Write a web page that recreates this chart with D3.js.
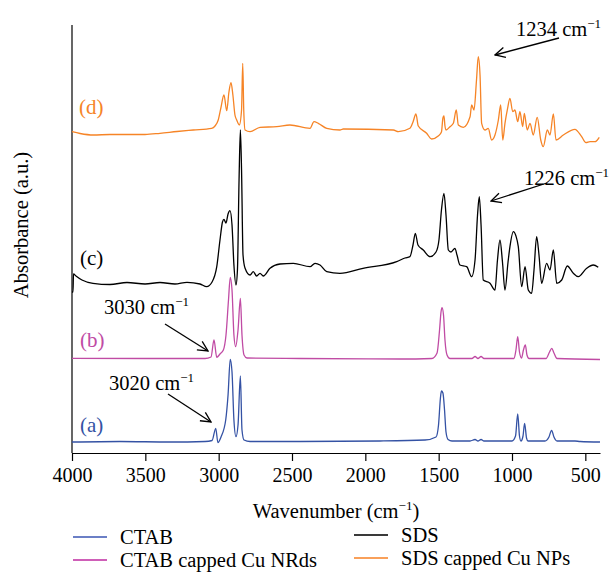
<!DOCTYPE html>
<html lang="en">
<head>
<meta charset="UTF-8">
<title>FTIR spectra</title>
<style>
    body { margin: 0; background: #fff; }
    text { font-family: "Liberation Serif", "Times New Roman", serif; }
    .axis path, .axis line { stroke: #000; stroke-width: 1.2px; }
    .trace { fill: none; stroke-width: 1.3px; stroke-linejoin: round; }
</style>
</head>
<body>
<div id="chart"></div>
<script src="https://d3js.org/d3.v7.min.js"></script>
<script>
    "use strict";

    // [wavenumber (cm-1), absorbance (a.u., offset)]
    const ctab = [
        [4000, 11], [3673, 11.5], [3332, 11], [3093, 11.5], [3045, 12.5], [3020, 24.7], [3005, 10.3],
        [2984, 16], [2952, 33], [2936, 58], [2921, 93.7], [2909, 81], [2896, 33], [2882, 16.3],
        [2868, 28], [2852, 77], [2841, 23], [2827, 13], [2786, 11.5], [2445, 11.5], [1900, 12],
        [1593, 13], [1518, 16], [1501, 28], [1488, 55], [1481, 62], [1471, 60], [1460, 43],
        [1450, 21], [1436, 13.5], [1409, 12], [1286, 12], [1252, 13.5], [1232, 12], [1211, 13.5],
        [1191, 12], [1000, 12], [976, 17], [961, 39], [949, 17], [939, 12], [925, 17], [914, 29.7],
        [901, 15], [891, 12], [775, 12], [748, 16], [730, 22.7], [714, 16], [693, 12], [571, 12],
        [536, 11.5], [400, 11]
    ];
    const ctabCu = [
        [4000, 94.7], [3468, 94.5], [3093, 94.5], [3052, 96], [3032, 113], [3013, 95.7], [2991, 99],
        [2968, 103], [2950, 118], [2933, 153], [2921, 175.7], [2909, 163], [2896, 118], [2884, 106.3],
        [2868, 123], [2852, 154.7], [2841, 118], [2827, 98], [2807, 95], [2445, 94.5], [1764, 94],
        [1546, 94.5], [1511, 100], [1494, 123], [1484, 141], [1477, 145.3], [1467, 138], [1457, 113],
        [1443, 98], [1423, 94.5], [1273, 94.5], [1252, 96.5], [1232, 94.5], [1211, 96.5], [1191, 94.5],
        [986, 94.5], [973, 103], [961, 116.3], [949, 101], [935, 95], [922, 103], [909, 108], [898, 98],
        [884, 94.5], [768, 94.5], [744, 101], [729, 104.7], [714, 100], [693, 94.5], [400, 93.5]
    ];
    const sds = [
        [4000, 161], [3993, 161], [3990, 179], [3973, 177], [3932, 173], [3857, 169.7], [3741, 168.5],
        [3625, 170.5], [3502, 169], [3400, 170.5], [3298, 169], [3216, 170.7], [3127, 169], [3082, 166.3],
        [3045, 171], [3013, 186.3], [2991, 213], [2974, 231], [2964, 233.7], [2950, 230], [2936, 239],
        [2923, 242.3], [2909, 228], [2896, 188], [2882, 168], [2872, 183], [2861, 273], [2852, 323],
        [2844, 283], [2834, 198], [2820, 184.7], [2786, 178], [2764, 181.3], [2741, 177], [2718, 179.7],
        [2696, 177], [2650, 184.7], [2582, 189], [2491, 189.7], [2377, 186.3], [2343, 189.7], [2309, 188],
        [2263, 181.3], [2173, 179.7], [2016, 184.7], [1786, 191.3], [1730, 195], [1696, 196.3], [1675, 208],
        [1659, 219.7], [1641, 208], [1605, 203], [1559, 196.3], [1518, 201], [1498, 213], [1481, 243],
        [1464, 259.7], [1450, 238], [1434, 203], [1416, 201], [1389, 204.7], [1375, 198], [1355, 188],
        [1309, 186.3], [1275, 176.3], [1252, 193], [1235, 238], [1223, 256.3], [1211, 228], [1196, 173],
        [1150, 169.7], [1116, 163], [1099, 193], [1082, 213], [1065, 191], [1048, 163], [1027, 191],
        [1014, 206.3], [991, 221.3], [973, 217], [957, 206.3], [934, 166.3], [911, 186.3], [889, 163],
        [866, 159.7], [850, 183], [832, 216.3], [816, 198], [798, 169.7], [764, 189.7], [741, 183],
        [718, 203], [695, 169.7], [661, 173], [623, 187], [582, 179.7], [548, 176.3], [491, 184.7],
        [446, 188], [412, 185.7]
    ];
    const sdsCu = [
        [4000, 321.3], [3945, 319.5], [3855, 318], [3741, 318.5], [3627, 318.5], [3502, 318.5], [3400, 319.7],
        [3284, 321.5], [3173, 323], [3048, 324.7], [3025, 327], [3003, 333], [2985, 345], [2964, 358],
        [2945, 342.3], [2930, 361], [2916, 370.3], [2903, 358], [2889, 338], [2877, 333], [2859, 328],
        [2844, 343], [2836, 389.7], [2829, 343], [2820, 323], [2786, 321.3], [2718, 325.7], [2604, 326.3],
        [2514, 328], [2377, 324.7], [2350, 331.3], [2321, 329.7], [2263, 324.7], [2173, 323], [2150, 324],
        [1809, 323], [1775, 321.3], [1696, 324.7], [1675, 331], [1655, 339], [1639, 327], [1582, 319.7],
        [1548, 314], [1503, 317], [1481, 321], [1471, 335], [1464, 337], [1457, 327], [1450, 323],
        [1423, 326.3], [1400, 329.7], [1380, 343], [1366, 328], [1332, 325.7], [1286, 336.3], [1275, 348],
        [1259, 343], [1242, 373], [1230, 396.3], [1218, 378], [1207, 329.7], [1184, 323], [1162, 324.7],
        [1139, 313], [1116, 318], [1093, 333], [1077, 348], [1063, 313], [1048, 329.7], [1030, 344.7],
        [1014, 354.7], [995, 341.3], [980, 343], [961, 331.3], [946, 341.3], [927, 326.3], [916, 339.7],
        [896, 323], [877, 329.7], [855, 318], [828, 335.7], [804, 313], [787, 306.3], [759, 323],
        [741, 318], [718, 339], [700, 313], [650, 318], [571, 323.7], [525, 316.3], [496, 310.3],
        [468, 311.3], [434, 311.3], [405, 315.7]
    ];

    const xTicks = [4000, 3500, 3000, 2500, 2000, 1500, 1000, 500];
    const seriesNames = ["CTAB", "CTAB capped Cu NRds", "SDS", "SDS capped Cu NPs"];
    const seriesTags = ["(a)", "(b)", "(c)", "(d)"];
    const seriesColors = ["#3452a4", "#c04ba4", "#000000", "#f68426"];
    const legendColors = ["#6b7fc6", "#cf5fb8", "#3a3a3a", "#f9a05a"];
    const peakLabels = ["3020", "3030", "1226", "1234"];

    const width = 613, height = 573;
    const svg = d3.select("#chart").append("svg")
        .attr("width", width)
        .attr("height", height);

    const x = d3.scaleLinear().domain([4000, 400]).range([72, 600]);
    const y = d3.scaleLinear().domain([0, 430]).range([453, 23]);

    // axes
    svg.append("g")
        .attr("class", "axis")
        .attr("transform", "translate(0," + y(0) + ")")
        .call(d3.axisBottom(x).tickValues(xTicks).tickFormat(d3.format("d"))
            .tickSize(8).tickSizeOuter(0).tickPadding(7))
        .call(g => g.selectAll("text").attr("font-size", 20).attr("fill", "#000")
            .style("font-family", "'Liberation Serif', serif"));

    svg.append("line")
        .attr("x1", x(4000)).attr("x2", x(4000))
        .attr("y1", y(0)).attr("y2", y(428))
        .attr("stroke", "#000").attr("stroke-width", 1.2);

    // traces
    const line = d3.line()
        .x(d => x(d[0]))
        .y(d => y(d[1]))
        .curve(d3.curveMonotoneX);

    const allSeries = [ctab, ctabCu, sds, sdsCu];
    allSeries.forEach(function (s, i) {
        svg.append("path")
            .attr("class", "trace")
            .attr("d", line(s))
            .attr("stroke", seriesColors[i]);
    });

    // tags (a)-(d)
    const tagPos = [[80, 425], [80, 340], [80, 258], [79, 107]];
    seriesTags.forEach(function (t, i) {
        svg.append("text")
            .attr("x", tagPos[i][0])
            .attr("y", tagPos[i][1])
            .attr("dy", "0.35em")
            .attr("font-size", 21)
            .attr("fill", seriesColors[i])
            .text(t);
    });

    // arrow head
    svg.append("defs").append("marker")
        .attr("id", "head")
        .attr("viewBox", "0 0 12 12")
        .attr("refX", 11).attr("refY", 6)
        .attr("markerWidth", 12).attr("markerHeight", 12)
        .attr("markerUnits", "userSpaceOnUse")
        .attr("orient", "auto")
        .append("path")
        .attr("d", "M1,1 L11,6 L1,11")
        .attr("fill", "none")
        .attr("stroke", "#000")
        .attr("stroke-width", 1.3);

    // annotation positions (text start, text centre y, arrow from, arrow to)
    const annoPos = [
        { tx: 109, ty: 383, a: [168, 394, 211, 422] },
        { tx: 104, ty: 307, a: [165, 324, 208, 351] },
        { tx: 524, ty: 178, a: [547, 183, 491, 201] },
        { tx: 516, ty: 29, a: [559, 38, 495, 55] }
    ];
    peakLabels.forEach(function (p, i) {
        const pos = annoPos[i];
        const t = svg.append("text")
            .attr("x", pos.tx)
            .attr("y", pos.ty)
            .attr("dy", "0.35em")
            .attr("font-size", 20.5)
            .attr("fill", "#000");
        t.append("tspan").text(p + " cm");
        t.append("tspan").attr("font-size", 13).attr("dy", -8).text("\u22121");

        svg.append("line")
            .attr("x1", pos.a[0]).attr("y1", pos.a[1])
            .attr("x2", pos.a[2]).attr("y2", pos.a[3])
            .attr("stroke", "#000").attr("stroke-width", 1.3)
            .attr("marker-end", "url(#head)");
    });

    // axis titles
    const xt = svg.append("text")
        .attr("x", (x(4000) + x(400)) / 2)
        .attr("y", 518)
        .attr("text-anchor", "middle")
        .attr("font-size", 20.5);
    xt.append("tspan").text("Wavenumber (cm");
    xt.append("tspan").attr("font-size", 13).attr("dy", -8).text("\u22121");
    xt.append("tspan").attr("dy", 8).text(")");

    svg.append("text")
        .attr("transform", "translate(28,225) rotate(-90)")
        .attr("text-anchor", "middle")
        .attr("font-size", 20.5)
        .text("Absorbance (a.u.)");

    // legend, two columns
    const legendPos = [[73, 537], [73, 560], [354, 535], [354, 558]];
    seriesNames.forEach(function (name, i) {
        const g = svg.append("g")
            .attr("transform", "translate(" + legendPos[i][0] + "," + legendPos[i][1] + ")");
        g.append("line")
            .attr("x1", 0).attr("x2", 34)
            .attr("stroke", legendColors[i]).attr("stroke-width", 2);
        g.append("text")
            .attr("x", 47)
            .attr("dy", "0.32em")
            .attr("font-size", 20.5)
            .text(name);
    });
</script>
</body>
</html>
